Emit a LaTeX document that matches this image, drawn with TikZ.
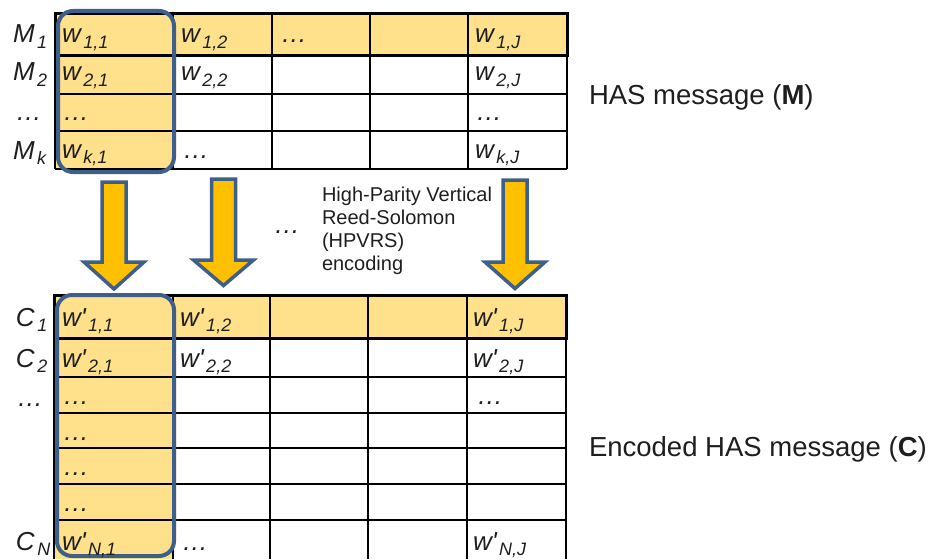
\documentclass[tikz,border=0pt]{standalone}
\usepackage{fontspec}
\newfontfamily\lsans{Liberation Sans}
\definecolor{cellfill}{HTML}{FFE18B}
\definecolor{arrowfill}{HTML}{FFC000}
\definecolor{frameblue}{HTML}{3E5F8A}
\definecolor{txt}{HTML}{1E1E1E}
% subscript as set in the cells
\newcommand{\sbx}[1]{\hspace{2.5pt}\raisebox{-5.5pt}{\fontsize{18}{18}\selectfont #1}}
% downward block arrow: centre x, top, head base, tip
\newcommand{\blockdown}[4]{%
  \filldraw[blockarrow] (#1-12,#2) -- (#1+12,#2) -- (#1+12,#3) -- (#1+30,#3)
    -- (#1,#4) -- (#1-30,#3) -- (#1-12,#3) -- cycle;}
\begin{document}
\begin{tikzpicture}[x=1pt,y=-1pt,
  every node/.style={inner sep=0pt,outer sep=0pt,text=txt},
  cell/.style={anchor=base west,font=\lsans\itshape\fontsize{26}{30}\selectfont},
  label/.style={anchor=base west,font=\lsans\fontsize{27.5}{30}\selectfont},
  note/.style={anchor=base west,font=\lsans\fontsize{20}{23}\selectfont},
  thin/.style={draw=black,line width=1.1pt},
  vline/.style={draw=black,line width=1.8pt},
  firstrow/.style={draw=black,line width=3pt},
  colframe/.style={draw=frameblue,line width=4pt,rounded corners=15pt},
  blockarrow/.style={fill=arrowfill,draw=frameblue,line width=3.5pt,line join=miter}]
\useasboundingbox (0,0) rectangle (933,559);

% ---------- message table M ----------
\fill[cellfill] (55,14) rectangle (567,56);
\fill[cellfill] (55,14) rectangle (173,169);
\foreach \yy in {94,131} \draw[thin] (55,\yy) -- (567,\yy);
\draw[vline] (55,169) -- (567,169);
\foreach \xx in {55,173,272,370,468,567} \draw[vline] (\xx,14) -- (\xx,169);
\draw[firstrow] (55,14) rectangle (567,56);
\draw[colframe] (58,11) rectangle (174,172);

\node[cell] (m1) at (13,43) {M\sbx{1}};
\node[cell] (m2) at (13,81) {M\sbx{2}};
\node[cell] (md) at (16,121) {\ldots};
\node[cell] (mk) at (13,159) {M\sbx{k}};

\node[cell] (w11) at (62,43) {w\sbx{1,1}};
\node[cell] (w12) at (181,43) {w\sbx{1,2}};
\node[cell] (w1d) at (281,43) {\ldots};
\node[cell] (w1J) at (475,43) {w\sbx{1,J}};
\node[cell] (w21) at (62,81) {w\sbx{2,1}};
\node[cell] (w22) at (181,81) {w\sbx{2,2}};
\node[cell] (w2J) at (475,81) {w\sbx{2,J}};
\node[cell] (wd1) at (63,121) {\ldots};
\node[cell] (wdJ) at (476,121) {\ldots};
\node[cell] (wk1) at (62,158) {w\sbx{k,1}};
\node[cell] (wkd) at (183,158) {\ldots};
\node[cell] (wkJ) at (475,158) {w\sbx{k,J}};

\node[label] (hasM) at (589,105) {HAS message (\textbf{M})};

% ---------- encoding arrows ----------
\blockdown{114}{182}{262}{289}
\blockdown{223.5}{179}{260}{285.5}
\blockdown{515}{180}{262}{288.5}
\node[cell] (adots) at (274,233) {\ldots};
\node[note] (hp1) at (322,201) {High-Parity Vertical};
\node[note] (hp2) at (322,224) {Reed-Solomon};
\node[note] (hp3) at (322,247) {(HPVRS)};
\node[note] (hp4) at (322,270) {encoding};

% ---------- encoded table C ----------
\fill[cellfill] (54,295) rectangle (566,338);
\fill[cellfill] (54,295) rectangle (173,559);
\foreach \yy in {377,413,448,484,520} \draw[thin] (54,\yy) -- (566,\yy);
\foreach \xx in {54,173,270,368,467,566} \draw[vline] (\xx,295) -- (\xx,559);
\draw[firstrow] (54,295) rectangle (566,338);
\draw[colframe] (57,295) rectangle (174,556);

\node[cell] (c1) at (16,326) {C\sbx{1}};
\node[cell] (c2) at (16,367) {C\sbx{2}};
\node[cell] (cd) at (17,406) {\ldots};
\node[cell] (cN) at (16,550) {C\sbx{N}};

\node[cell] (v11) at (62,326) {w'\sbx{1,1}};
\node[cell] (v12) at (180,326) {w'\sbx{1,2}};
\node[cell] (v1J) at (473,326) {w'\sbx{1,J}};
\node[cell] (v21) at (62,367) {w'\sbx{2,1}};
\node[cell] (v22) at (180,367) {w'\sbx{2,2}};
\node[cell] (v2J) at (473,367) {w'\sbx{2,J}};
\node[cell] (vd3) at (63,404) {\ldots};
\node[cell] (vd3J) at (477,404) {\ldots};
\node[cell] (vd4) at (63,440) {\ldots};
\node[cell] (vd5) at (63,475) {\ldots};
\node[cell] (vd6) at (63,511) {\ldots};
\node[cell] (vN1) at (62,550) {w'\sbx{N,1}};
\node[cell] (vNd) at (182,550) {\ldots};
\node[cell] (vNJ) at (473,550) {w'\sbx{N,J}};

\node[label] (hasC) at (589,456) {Encoded HAS message (\textbf{C})};
\end{tikzpicture}
\end{document}
